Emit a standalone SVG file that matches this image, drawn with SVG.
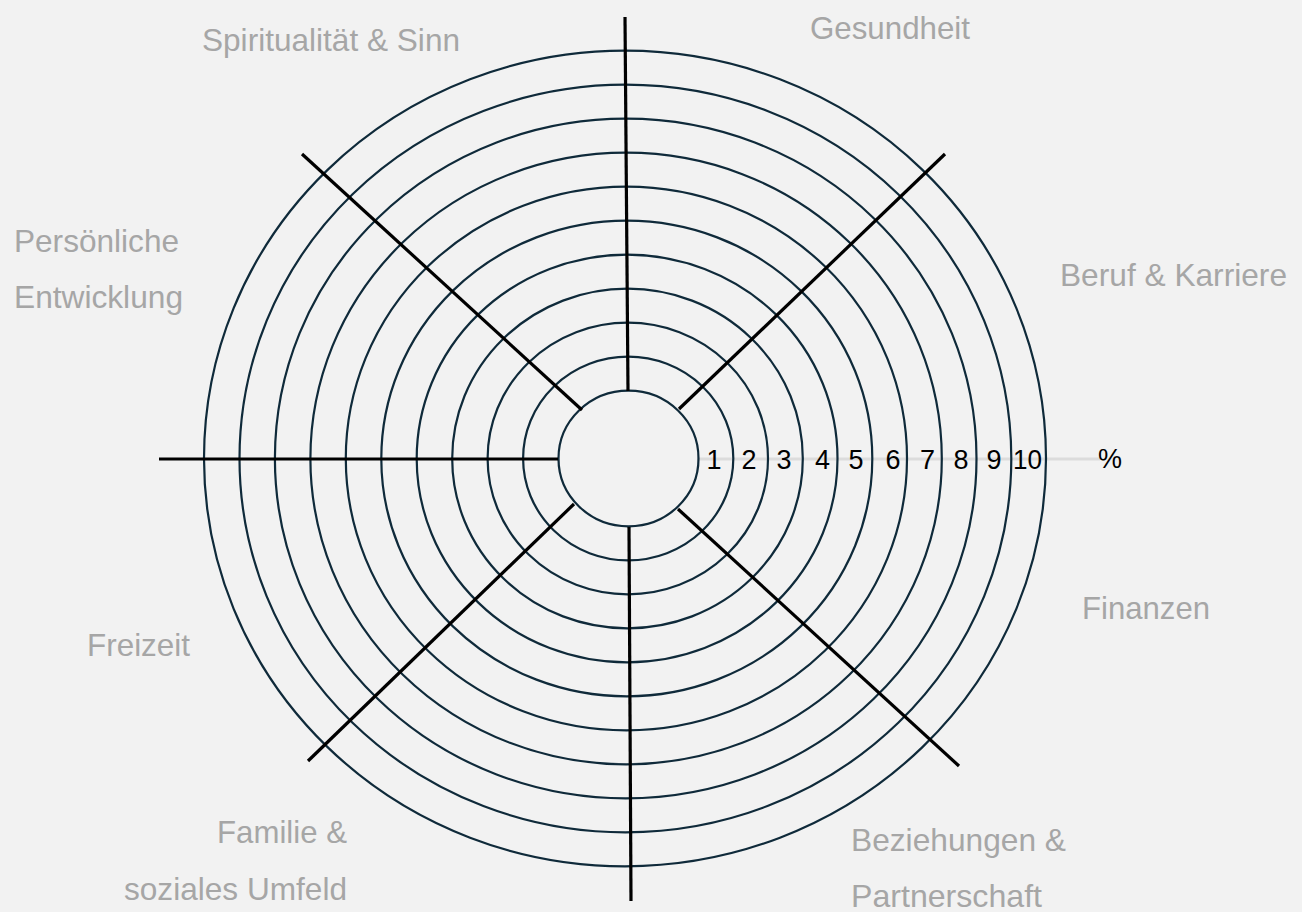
<svg xmlns="http://www.w3.org/2000/svg" width="1302" height="912" viewBox="0 0 1302 912">
<style>
.ring{fill:none;stroke:#0f2a3a;stroke-width:2.2}
.spoke{stroke:#000;stroke-width:3.2;stroke-linecap:butt}
.lbl{font-family:"Liberation Sans",Arial,sans-serif;font-size:32px;fill:#a6a6a6}
.num{font-family:"Liberation Sans",Arial,sans-serif;font-size:27px;fill:#000;text-anchor:middle}
</style>
<rect x="0" y="0" width="1302" height="912" fill="#f2f2f2"/>
<g id="scale-axis">
<line x1="697" y1="459" x2="1100" y2="459" stroke="#dcdcdc" stroke-width="3"/>
</g>
<g id="wheel">
<ellipse class="ring" cx="628.5" cy="458.5" rx="70" ry="67.8"/>
<ellipse class="ring" cx="628.2" cy="458.5" rx="105.1" ry="101.8"/>
<ellipse class="ring" cx="627.8" cy="458.5" rx="140.2" ry="135.8"/>
<ellipse class="ring" cx="627.5" cy="458.5" rx="175.3" ry="169.8"/>
<ellipse class="ring" cx="627.1" cy="458.5" rx="210.4" ry="203.8"/>
<ellipse class="ring" cx="626.8" cy="458.5" rx="245.5" ry="237.8"/>
<ellipse class="ring" cx="626.4" cy="458.5" rx="280.6" ry="271.8"/>
<ellipse class="ring" cx="626.1" cy="458.5" rx="315.7" ry="305.8"/>
<ellipse class="ring" cx="625.7" cy="458.5" rx="350.8" ry="339.8"/>
<ellipse class="ring" cx="625.4" cy="458.5" rx="385.9" ry="373.8"/>
<ellipse class="ring" cx="625" cy="458.5" rx="421" ry="407.8"/>
</g>
<g id="connectors">
<line class="spoke" x1="625" y1="17" x2="628" y2="391"/>
<line class="spoke" x1="629" y1="527" x2="631" y2="901"/>
<line class="spoke" x1="679" y1="409" x2="945" y2="154"/>
<line class="spoke" x1="582" y1="410" x2="302" y2="154"/>
<line class="spoke" x1="574" y1="504" x2="308" y2="761"/>
<line class="spoke" x1="678" y1="509" x2="959" y2="766"/>
<line class="spoke" x1="159" y1="459" x2="558" y2="459"/>
</g>
<g id="scale-numbers">
<text class="num" x="714" y="469">1</text>
<text class="num" x="749" y="469">2</text>
<text class="num" x="784" y="469">3</text>
<text class="num" x="822.5" y="469">4</text>
<text class="num" x="856" y="469">5</text>
<text class="num" x="893" y="469">6</text>
<text class="num" x="927.5" y="469">7</text>
<text class="num" x="961" y="469">8</text>
<text class="num" x="994" y="469">9</text>
<text class="num" x="1027.5" y="469" textLength="29" lengthAdjust="spacingAndGlyphs">10</text>
<text class="num" x="1110" y="468">%</text>
</g>
<g id="label-gesundheit"><text class="lbl" x="810" y="39" textLength="160" lengthAdjust="spacingAndGlyphs">Gesundheit</text></g>
<g id="label-beruf"><text class="lbl" x="1060" y="286" textLength="227" lengthAdjust="spacingAndGlyphs">Beruf &amp; Karriere</text></g>
<g id="label-finanzen"><text class="lbl" x="1082" y="619" textLength="128" lengthAdjust="spacingAndGlyphs">Finanzen</text></g>
<g id="label-beziehungen">
<text class="lbl" x="851" y="851" textLength="215" lengthAdjust="spacingAndGlyphs">Beziehungen &amp;</text>
<text class="lbl" x="851" y="907" textLength="191" lengthAdjust="spacingAndGlyphs">Partnerschaft</text>
</g>
<g id="label-familie">
<text class="lbl" x="217" y="843" textLength="130" lengthAdjust="spacingAndGlyphs">Familie &amp;</text>
<text class="lbl" x="124" y="900" textLength="223" lengthAdjust="spacingAndGlyphs">soziales Umfeld</text>
</g>
<g id="label-freizeit"><text class="lbl" x="87" y="656" textLength="103" lengthAdjust="spacingAndGlyphs">Freizeit</text></g>
<g id="label-persoenliche">
<text class="lbl" x="14" y="252" textLength="165" lengthAdjust="spacingAndGlyphs">Persönliche</text>
<text class="lbl" x="14" y="308" textLength="169" lengthAdjust="spacingAndGlyphs">Entwicklung</text>
</g>
<g id="label-spiritualitaet"><text class="lbl" x="202" y="51" textLength="258" lengthAdjust="spacingAndGlyphs">Spiritualität &amp; Sinn</text></g>
</svg>
